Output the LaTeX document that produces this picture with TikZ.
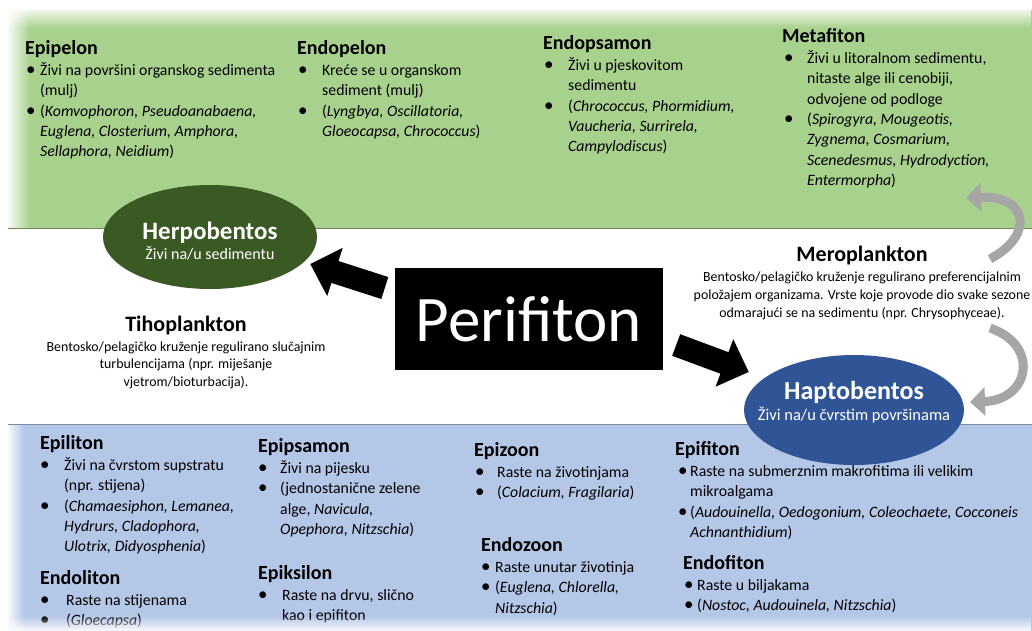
\documentclass[tikz,border=0pt]{standalone}
\usepackage{fontspec}
\setmainfont{Carlito}
\usetikzlibrary{shapes.geometric,arrows.meta,fadings}

\definecolor{bentgreen}{HTML}{A9D18E}
\definecolor{bentblue}{HTML}{B4C7E7}
\definecolor{herpogreen}{HTML}{3B5A23}
\definecolor{haptoblue}{HTML}{2F5597}
\definecolor{loopgray}{HTML}{A6A6A6}

\tikzfading[name=fadeleft, left color=transparent!0, right color=transparent!100]
\tikzfading[name=fadedown, top color=transparent!0, bottom color=transparent!100]
\tikzfading[name=fadeup, top color=transparent!100, bottom color=transparent!0]

\newlength\bulx
\newlength\txtx
\newcommand\bitem[1]{\hspace*{\bulx}\makebox[\dimexpr\txtx-\bulx\relax][l]{\scalebox{1.2}{\textbullet}}#1}
\newcommand\bcont[1]{\hspace*{\txtx}#1}
\newcommand\grphead[1]{{\fontsize{20}{24}\selectfont\bfseries #1}}

\begin{document}
\begin{tikzpicture}[x=1pt,y=-1pt,
  grp/.style={anchor=north west,align=left,inner sep=0pt,font=\fontsize{15.8}{20.3}\selectfont},
  ind/.code 2 args={\global\bulx=#1\global\txtx=#2},
  habitat/.style={ellipse,inner sep=0pt},
  habtext/.style={align=center,text=white,inner sep=0pt,font=\fontsize{16}{20}\selectfont},
  plank/.style={anchor=north,align=center,inner sep=0pt,font=\fontsize{13.9}{17.8}\selectfont},
  bigarrow/.style={line width=23pt,-{Triangle[length=26pt,width=49pt]}},
  loop/.style={loopgray,line width=9pt,-{Triangle[length=15pt,width=28pt]}}]
  \useasboundingbox (0,0) rectangle (1032,630);
  % bands
  \fill[bentgreen] (8,10) rectangle (1032,228);
  \fill[bentblue] (8,424) rectangle (1032,632);
  \fill[white,path fading=fadedown] (0,6) rectangle (1032,28);
  \fill[white,path fading=fadeleft] (6,6) rectangle (30,229);
  \fill[white,path fading=fadeleft] (6,424) rectangle (24,632);
  \draw[bentgreen!65!black,line width=1pt] (8,228) -- (1032,228);
  \draw[bentblue!70!black,line width=1pt] (8,424) -- (1032,424);

  % centre and habitats
  \node[fill=black,text=white,minimum width=268pt,minimum height=102pt,inner sep=0pt,
    font=\fontsize{65}{70}\selectfont] (peri) at (529,319) {Perifiton};
  \node[habitat,fill=herpogreen,minimum width=214pt,minimum height=104pt] (herpo) at (210,237) {};
  \node[habtext] (herpotxt) at (210,241) {{\fontsize{25}{28}\selectfont\bfseries Herpobentos}\\Živi na/u sedimentu};
  \node[habitat,fill=haptoblue,minimum width=220pt,minimum height=110pt] (hapto) at (854,410) {};
  \node[habtext,font=\fontsize{16.5}{21.6}\selectfont] (haptotxt) at (854,402) {{\fontsize{26}{28}\selectfont\bfseries Haptobentos}\\Živi na/u čvrstim površinama};

  \draw[bigarrow] ([xshift=-10pt,yshift=31pt]peri.west) -- ([xshift=-7pt,yshift=-27pt]herpo.east);
  \draw[bigarrow] ([xshift=13pt,yshift=-26pt]peri.east) -- ([xshift=5pt,yshift=38pt]hapto.west);

  % plankton
  \node[plank] (tiho) at (186,316) {{\fontsize{22}{24}\selectfont\bfseries Tihoplankton}\\[1.6pt]
    Bentosko/pelagičko kruženje regulirano slučajnim\\
    turbulencijama (npr. miješanje\\
    vjetrom/bioturbacija).};
  \node[plank] (mero) at (862,246) {{\fontsize{22}{24}\selectfont\bfseries Meroplankton}\\[2.5pt]
    Bentosko/pelagičko kruženje regulirano preferencijalnim\\
    položajem organizama. Vrste koje provode dio svake sezone\\
    odmarajući se na sedimentu (npr. Chrysophyceae).};

  \coordinate (upstart) at (990,259);
  \coordinate (upend) at (966,198);
  \coordinate (downstart) at (990,328);
  \coordinate (downend) at (970,402);
  \draw[loop] (upstart) .. controls (1035,235) and (1028,195) .. (upend);
  \draw[loop] (downstart) .. controls (1040,345) and (1030,400) .. (downend);

  % herpobentos groups
  \node[grp,ind={1pt}{15pt}] (epipelon) at (25,40) {\grphead{Epipelon}\\[1pt]
    \bitem{Živi na površini organskog sedimenta}\\
    \bcont{(mulj)}\\
    \bitem{(\textit{Komvophoron, Pseudoanabaena,}}\\
    \bcont{\textit{Euglena, Closterium, Amphora,}}\\
    \bcont{\textit{Sellaphora, Neidium})}};
  \node[grp,ind={1pt}{25pt}] (endopelon) at (297,40) {\grphead{Endopelon}\\[1pt]
    \bitem{Kreće se u organskom}\\
    \bcont{sediment (mulj)}\\
    \bitem{(\textit{Lyngbya, Oscillatoria,}}\\
    \bcont{\textit{Gloeocapsa, Chrococcus})}};
  \node[grp,ind={1pt}{25pt}] (endopsamon) at (543,35) {\grphead{Endopsamon}\\[1pt]
    \bitem{Živi u pjeskovitom}\\
    \bcont{sedimentu}\\
    \bitem{(\textit{Chrococcus, Phormidium,}}\\
    \bcont{\textit{Vaucheria, Surrirela,}}\\
    \bcont{\textit{Campylodiscus})}};
  \node[grp,ind={2pt}{25pt}] (metafiton) at (782,28) {\grphead{Metafiton}\\[1pt]
    \bitem{Živi u litoralnom sedimentu,}\\
    \bcont{nitaste alge ili cenobiji,}\\
    \bcont{odvojene od podloge}\\
    \bitem{(\textit{Spirogyra, Mougeotis,}}\\
    \bcont{\textit{Zygnema, Cosmarium,}}\\
    \bcont{\textit{Scenedesmus, Hydrodyction,}}\\
    \bcont{\textit{Entermorpha})}};

  % haptobentos groups
  \node[grp,ind={0pt}{24pt}] (epiliton) at (40,435) {\grphead{Epiliton}\\[1pt]
    \bitem{Živi na čvrstom supstratu}\\
    \bcont{(npr. stijena)}\\
    \bitem{(\textit{Chamaesiphon, Lemanea,}}\\
    \bcont{\textit{Hydrurs, Cladophora,}}\\
    \bcont{\textit{Ulotrix, Didyosphenia})}};
  \node[grp,ind={0pt}{26pt}] (endoliton) at (40,570) {\grphead{Endoliton}\\[1pt]
    \bitem{Raste na stijenama}\\
    \bitem{(\textit{Gloecapsa})}};
  \node[grp,ind={0pt}{22pt}] (epipsamon) at (258,438) {\grphead{Epipsamon}\\[1pt]
    \bitem{Živi na pijesku}\\
    \bitem{(jednostanične zelene}\\
    \bcont{alge, \textit{Navicula,}}\\
    \bcont{\textit{Opephora, Nitzschia})}};
  \node[grp,ind={0pt}{24pt}] (epiksilon) at (258,565) {\grphead{Epiksilon}\\[1pt]
    \bitem{Raste na drvu, slično}\\
    \bcont{kao i epifiton}};
  \node[grp,ind={1pt}{23pt}] (epizoon) at (474,442) {\grphead{Epizoon}\\[1pt]
    \bitem{Raste na životinjama}\\
    \bitem{(\textit{Colacium, Fragilaria})}};
  \node[grp,ind={0pt}{14pt}] (endozoon) at (481,537) {\grphead{Endozoon}\\[1pt]
    \bitem{Raste unutar životinja}\\
    \bitem{(\textit{Euglena, Chlorella,}}\\
    \bcont{\textit{Nitzschia})}};
  \node[grp,ind={3pt}{15pt}] (epifiton) at (675,441) {\grphead{Epifiton}\\[1pt]
    \bitem{Raste na submerznim makrofitima ili velikim}\\
    \bcont{mikroalgama}\\
    \bitem{(\textit{Audouinella, Oedogonium, Coleochaete, Cocconeis}}\\
    \bcont{\textit{Achnanthidium})}};
  \node[grp,ind={1pt}{14pt}] (endofiton) at (683,555) {\grphead{Endofiton}\\[1pt]
    \bitem{Raste u biljakama}\\
    \bitem{(\textit{Nostoc, Audouinela, Nitzschia})}};

  \fill[white,path fading=fadeup] (0,616) rectangle (1032,632);
\end{tikzpicture}
\end{document}
